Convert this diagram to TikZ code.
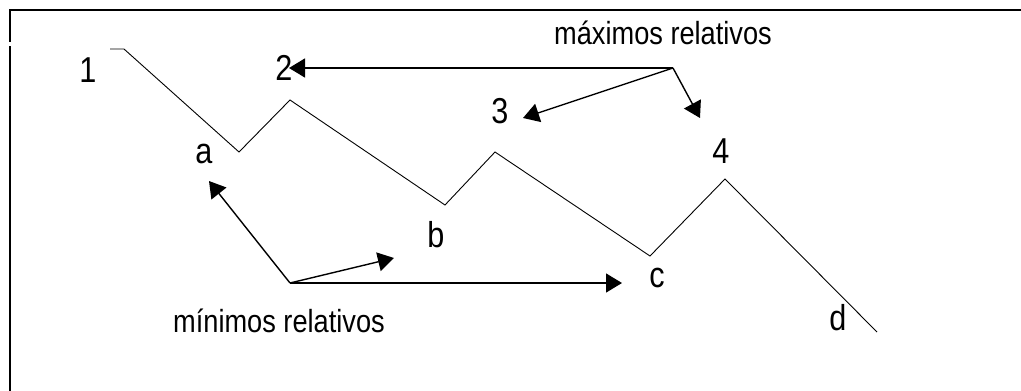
\documentclass[tikz,border=0pt]{standalone}
\usepackage{fontspec}
\setmainfont{Liberation Sans}[FakeStretch=0.85]
\usetikzlibrary{arrows.meta}

\begin{document}
\begin{tikzpicture}[x=1pt, y=-1pt,
  lbl/.style={inner sep=0pt, anchor=base, font=\fontsize{36}{38}\selectfont},
  txt/.style={inner sep=0pt, anchor=base, font=\fontsize{32}{34}\selectfont},
  zig/.style={line width=0.9pt, line join=miter},
  arr/.style={line width=1.4pt, -{Triangle[length=16pt, width=19pt]}}]
  \useasboundingbox (0,0) rectangle (1021,391);
  % frame
  \draw[line width=2pt] (1021,10) -- (10,10) -- (10,42);
  \draw[line width=2pt] (10,46) -- (10,391);
  % curve vertices
  \foreach \n/\x/\y in {p0/110/49, p1/124/49, pa/239/152, p2/290/100, pb/445/205,
                        p3/495/152, pc/650/256, p4/725/179, pd/877/332}
    \coordinate (\n) at (\x,\y);
  \draw[zig] (p0) -- (p1) -- (pa) -- (p2) -- (pb) -- (p3) -- (pc) -- (p4) -- (pd);
  % point labels
  \foreach \n/\t/\x/\y in {one/1/88/82, two/2/284/80, three/3/500/123, four/4/721/163,
                           la/a/204/163, lb/b/436/247, lc/c/657/287, ld/d/838/330}
    \node[lbl] (\n) at (\x,\y) {\t};
  % maxima
  \node[txt] (maxtxt) at (663,44) {máximos relativos};
  \coordinate (hubmax) at (673,68);
  \coordinate (tip2) at (289,68);
  \coordinate (tip3) at (523,118);
  \coordinate (tip4) at (700,118);
  \draw[arr] (hubmax) -- (tip2);
  \draw[arr] (hubmax) -- (tip3);
  \draw[arr] (hubmax) -- (tip4);
  % minima
  \node[txt] (mintxt) at (279,332) {mínimos relativos};
  \coordinate (hubmin) at (290,283);
  \coordinate (tipa) at (209,181);
  \coordinate (tipb) at (394,258);
  \coordinate (tipc) at (622,283);
  \draw[arr] (hubmin) -- (tipa);
  \draw[arr] (hubmin) -- (tipb);
  \draw[arr] (hubmin) -- (tipc);
\end{tikzpicture}
\end{document}
